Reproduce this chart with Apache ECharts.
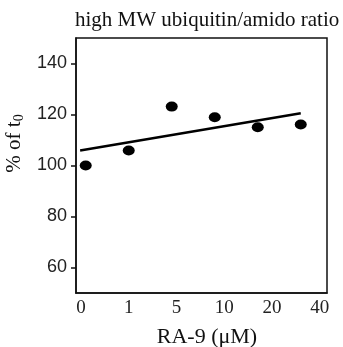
<!DOCTYPE html>
<html>
<head>
<meta charset="utf-8">
<script src="https://cdn.jsdelivr.net/npm/echarts@6/dist/echarts.min.js"></script>
<style>html,body{margin:0;padding:0;background:#fff;}#c{width:343px;height:347px;}</style>
</head>
<body>
<div id="c"></div>
<script>
// Data
const tickLabels = ['0', '1', '5', '10', '20', '40'];   // RA-9 (µM) labels
const pointIndex = [0, 1, 2, 3, 4, 5];                    // position of each measured dose
const pointValues = [100, 105.9, 123.1, 118.9, 115.0, 116.1]; // % of t0
const fitX = [-0.13, 5.0];
const fitY = [105.9, 120.5];
const yTicks = [60, 80, 100, 120, 140];

const chart = echarts.init(document.getElementById('c'), null, {renderer: 'canvas'});
const serif = '"Liberation Serif", "DejaVu Serif", serif';
const sans = '"Liberation Sans", Arial, sans-serif';

chart.setOption({
  animation: false,
  backgroundColor: '#fff',
  title: {
    text: 'high MW ubiquitin/amido ratio',
    left: 70, top: 5,
    textStyle: {fontFamily: serif, fontWeight: 'normal', fontSize: 21, color: '#111'}
  },
  grid: {left: 76, right: 16, top: 38, bottom: 54, show: true, borderColor: '#111', borderWidth: 1.5,
         backgroundColor: 'transparent', containLabel: false, outerBoundsMode: 'none'},
  xAxis: [
    {
      type: 'value', min: -0.226, max: 5.61, show: false
    },
    {
      type: 'value', min: -0.105, max: 5.15, position: 'bottom',
      name: 'RA-9 (μM)', nameLocation: 'middle', nameGap: 33,
      nameTextStyle: {fontFamily: serif, fontSize: 22, color: '#111', padding: [0, 0, 0, 11]},
      axisLine: {show: true, onZero: false, lineStyle: {color: '#111', width: 1.5}},
      axisTick: {show: false},
      splitLine: {show: false},
      axisLabel: {
        customValues: tickLabels.map((_, i) => i),
        formatter: v => tickLabels[Math.round(v)] || '',
        fontFamily: serif, fontSize: 19, color: '#222', margin: 6
      }
    }
  ],
  yAxis: {
    type: 'value', min: 50, max: 150,
    name: '{a|% of t}{s|0}', nameLocation: 'middle', nameGap: 47,
    nameTextStyle: {
      padding: [0, 0, 0, 44],
      rich: {
        a: {fontFamily: serif, fontSize: 21, color: '#111'},
        s: {fontFamily: serif, fontSize: 14, color: '#111', verticalAlign: 'bottom', padding: [9, 0, 0, 0]}
      }
    },
    axisLine: {show: true, onZero: false, lineStyle: {color: '#111', width: 1.5}},
    axisTick: {show: true, customValues: yTicks, length: 5, lineStyle: {color: '#111', width: 1.5}},
    splitLine: {show: false},
    axisLabel: {customValues: yTicks, fontFamily: sans, fontSize: 18, color: '#222', margin: 9}
  },
  series: [
    {
      type: 'scatter', xAxisIndex: 0,
      data: pointIndex.map((x, i) => [x, pointValues[i]]),
      symbol: 'circle', symbolSize: [12, 10],
      itemStyle: {color: '#000', opacity: 1}
    },
    {
      type: 'line', xAxisIndex: 0,
      data: fitX.map((x, i) => [x, fitY[i]]),
      symbol: 'none', lineStyle: {color: '#000', width: 2.5}
    }
  ]
});
</script>
</body>
</html>
